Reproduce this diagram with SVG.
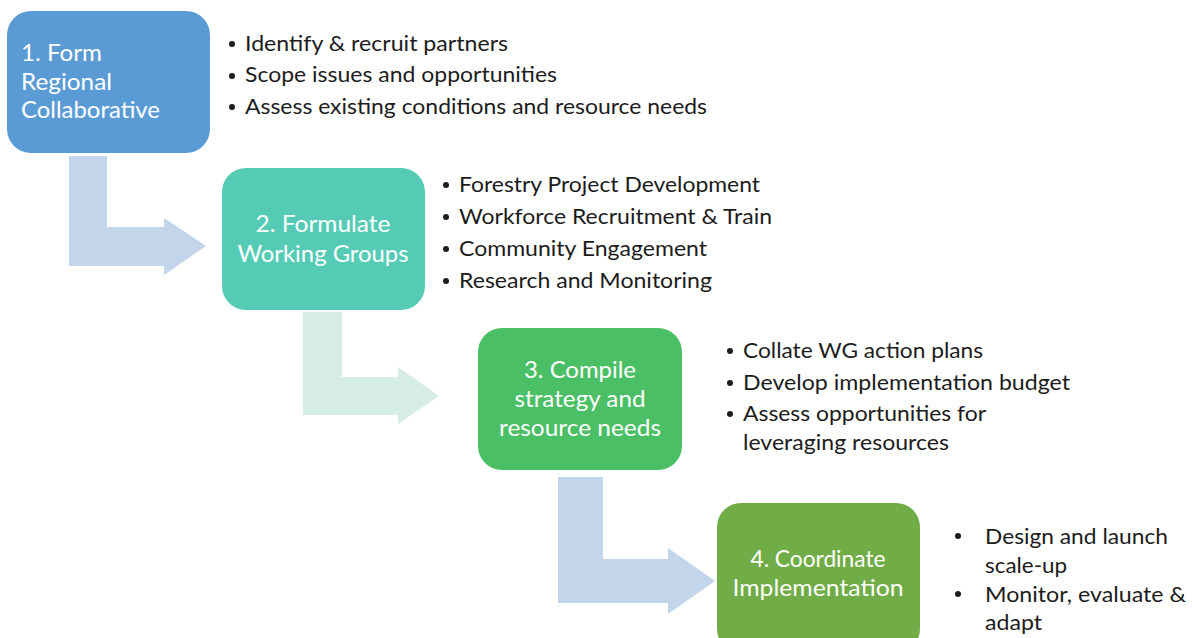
<svg xmlns="http://www.w3.org/2000/svg" width="1194" height="638" viewBox="0 0 1194 638">
  <style>
    .box { stroke: none; }
    .label { font-family: Lato, "Open Sans", "Liberation Sans", sans-serif; font-size: 23px; fill: #ffffff; }
    .mid { text-anchor: middle; }
    .item { font-family: Lato, "Open Sans", "Liberation Sans", sans-serif; font-size: 22px; fill: #1c1c1c; }
    .dot { fill: #1c1c1c; }
    .flow-blue { fill: #c3d5eb; }
    .flow-mint { fill: #d6ede5; }
  </style>
  <rect width="1194" height="638" fill="#ffffff"/>

  <!-- bent flow arrows between the steps -->
  <g id="connectors">
    <polygon class="flow-blue" points="69,156 107,156 107,227 164,227 164,218 206,246 164,275 164,266 69,266"/>
    <polygon class="flow-mint" points="303,312 342,312 342,377 398,377 398,367 439,396 398,424 398,415 303,415"/>
    <polygon class="flow-blue" points="558,477 603,477 603,559 668,559 668,548 715,581 668,614 668,603 558,603"/>
  </g>

  <!-- step 1 -->
  <g id="step1">
    <rect class="box" x="7" y="11" width="203" height="142" rx="24" fill="#5b9bd5"/>
    <text class="label" x="21" y="61" textLength="81" lengthAdjust="spacingAndGlyphs">1. Form</text>
    <text class="label" x="21" y="90" textLength="91" lengthAdjust="spacingAndGlyphs">Regional</text>
    <text class="label" x="21" y="118" textLength="139" lengthAdjust="spacingAndGlyphs">Collaborative</text>
  </g>
  <g id="step1-notes">
    <circle class="dot" cx="232" cy="44" r="3"/>
    <circle class="dot" cx="232" cy="76" r="3"/>
    <circle class="dot" cx="232" cy="107" r="3"/>
    <text class="item" x="245" y="51" textLength="263" lengthAdjust="spacingAndGlyphs">Identify &amp; recruit partners</text>
    <text class="item" x="245" y="82" textLength="312" lengthAdjust="spacingAndGlyphs">Scope issues and opportunities</text>
    <text class="item" x="245" y="114" textLength="462" lengthAdjust="spacingAndGlyphs">Assess existing conditions and resource needs</text>
  </g>

  <!-- step 2 -->
  <g id="step2">
    <rect class="box" x="222" y="168" width="203" height="142" rx="24" fill="#55cbb6"/>
    <text class="label mid" x="323" y="232" textLength="135" lengthAdjust="spacingAndGlyphs">2. Formulate</text>
    <text class="label mid" x="323" y="262" textLength="171" lengthAdjust="spacingAndGlyphs">Working Groups</text>
  </g>
  <g id="step2-notes">
    <circle class="dot" cx="446" cy="185" r="3"/>
    <circle class="dot" cx="446" cy="217" r="3"/>
    <circle class="dot" cx="446" cy="249" r="3"/>
    <circle class="dot" cx="446" cy="281" r="3"/>
    <text class="item" x="459" y="192" textLength="301" lengthAdjust="spacingAndGlyphs">Forestry Project Development</text>
    <text class="item" x="459" y="224" textLength="313" lengthAdjust="spacingAndGlyphs">Workforce Recruitment &amp; Train</text>
    <text class="item" x="459" y="256" textLength="248" lengthAdjust="spacingAndGlyphs">Community Engagement</text>
    <text class="item" x="459" y="288" textLength="253" lengthAdjust="spacingAndGlyphs">Research and Monitoring</text>
  </g>

  <!-- step 3 -->
  <g id="step3">
    <rect class="box" x="478" y="328" width="204" height="142" rx="24" fill="#4bbf65"/>
    <text class="label mid" x="580" y="378" textLength="112" lengthAdjust="spacingAndGlyphs">3. Compile</text>
    <text class="label mid" x="580" y="407" textLength="131" lengthAdjust="spacingAndGlyphs">strategy and</text>
    <text class="label mid" x="580" y="436" textLength="162" lengthAdjust="spacingAndGlyphs">resource needs</text>
  </g>
  <g id="step3-notes">
    <circle class="dot" cx="730" cy="351" r="3"/>
    <circle class="dot" cx="730" cy="383" r="3"/>
    <circle class="dot" cx="730" cy="414" r="3"/>
    <text class="item" x="743" y="358" textLength="240" lengthAdjust="spacingAndGlyphs">Collate WG action plans</text>
    <text class="item" x="743" y="390" textLength="327" lengthAdjust="spacingAndGlyphs">Develop implementation budget</text>
    <text class="item" x="743" y="421" textLength="243" lengthAdjust="spacingAndGlyphs">Assess opportunities for</text>
    <text class="item" x="743" y="450" textLength="206" lengthAdjust="spacingAndGlyphs">leveraging resources</text>
  </g>

  <!-- step 4 -->
  <g id="step4">
    <rect class="box" x="717" y="503" width="203" height="150" rx="24" fill="#70ad47"/>
    <text class="label mid" x="818" y="567" textLength="135" lengthAdjust="spacingAndGlyphs">4. Coordinate</text>
    <text class="label mid" x="818" y="596" textLength="171" lengthAdjust="spacingAndGlyphs">Implementation</text>
  </g>
  <g id="step4-notes">
    <circle class="dot" cx="958" cy="536" r="3"/>
    <circle class="dot" cx="958" cy="594" r="3"/>
    <text class="item" x="985" y="544" textLength="183" lengthAdjust="spacingAndGlyphs">Design and launch</text>
    <text class="item" x="985" y="573" textLength="82" lengthAdjust="spacingAndGlyphs">scale-up</text>
    <text class="item" x="985" y="602" textLength="201" lengthAdjust="spacingAndGlyphs">Monitor, evaluate &amp;</text>
    <text class="item" x="985" y="630" textLength="57" lengthAdjust="spacingAndGlyphs">adapt</text>
  </g>
</svg>
